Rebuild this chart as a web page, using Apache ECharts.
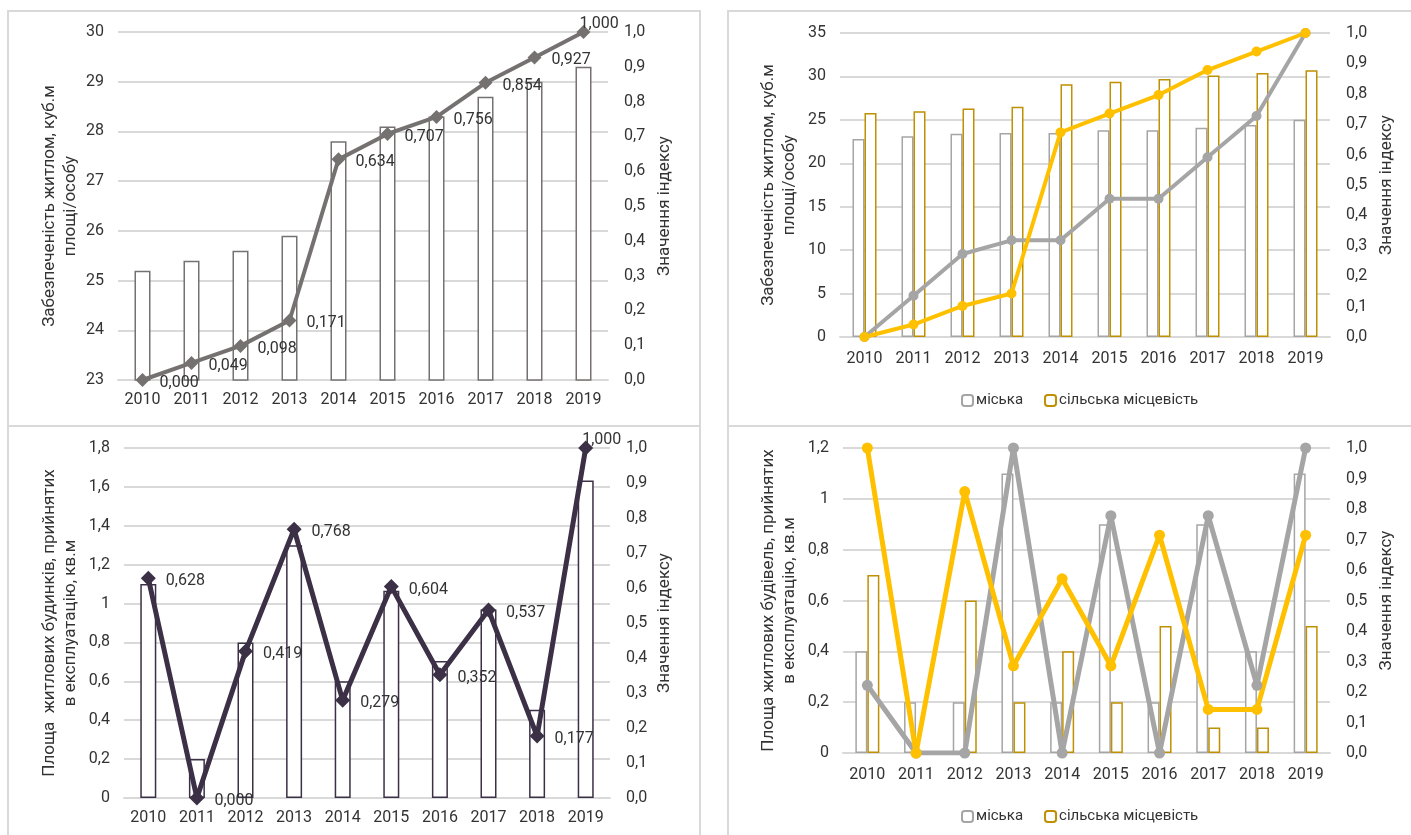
<!DOCTYPE html>
<html>
<head>
<meta charset="utf-8">
<title>Індекси забезпеченості житлом</title>
<script src="https://cdn.jsdelivr.net/npm/echarts@6/dist/echarts.min.js"></script>
<style>
  html, body { margin: 0; padding: 0; background: #fff; }
  #chart { width: 1411px; height: 835px; }
</style>
</head>
<body>
<div id="chart"></div>
<script>
// роки
const years = ['2010', '2011', '2012', '2013', '2014', '2015', '2016', '2017', '2018', '2019'];

// 1) забезпеченість житлом, всього + індекс
const housingTotal = [25.2, 25.4, 25.6, 25.9, 27.8, 28.1, 28.3, 28.7, 29.0, 29.3];
const housingTotalIdx = [0.000, 0.049, 0.098, 0.171, 0.634, 0.707, 0.756, 0.854, 0.927, 1.000];

// 2) забезпеченість житлом, місто / село + індекси
const housingUrban = [22.8, 23.1, 23.4, 23.5, 23.5, 23.8, 23.8, 24.1, 24.4, 25.0];
const housingRural = [25.8, 26.0, 26.3, 26.5, 29.1, 29.4, 29.7, 30.1, 30.4, 30.7];
const housingUrbanIdx = [0.000, 0.136, 0.273, 0.318, 0.318, 0.455, 0.455, 0.591, 0.727, 1.000];
const housingRuralIdx = [0.000, 0.041, 0.102, 0.143, 0.673, 0.735, 0.796, 0.878, 0.939, 1.000];

// 3) площа житлових будинків, прийнятих в експлуатацію + індекс
const builtTotal = [1.1, 0.2, 0.8, 1.3, 0.6, 1.066, 0.704, 0.97, 0.454, 1.633];
const builtTotalIdx = [0.628, 0.000, 0.419, 0.768, 0.279, 0.604, 0.352, 0.537, 0.177, 1.000];

// 4) площа, місто / село + індекси
const builtUrban = [0.4, 0.2, 0.2, 1.1, 0.2, 0.9, 0.2, 0.9, 0.4, 1.1];
const builtRural = [0.7, 0.0, 0.6, 0.2, 0.4, 0.2, 0.5, 0.1, 0.1, 0.5];
const builtUrbanIdx = [0.222, 0.000, 0.000, 1.000, 0.000, 0.778, 0.000, 0.778, 0.222, 1.000];
const builtRuralIdx = [1.000, 0.000, 0.857, 0.286, 0.571, 0.286, 0.714, 0.143, 0.143, 0.714];

const legendNames = ['міська', 'сільська місцевість'];
const leftTitles = [
  'Забезпеченість житлом, куб.м\nплощі/особу',
  'Забезпеченість житлом, куб.м\nплощі/особу',
  'Площа  житлових будинків, прийнятих\nв експлуатацію, кв.м',
  'Площа житлових будівель, прийнятих\nв експлуатацію, кв.м'
];
const rightTitle = 'Значення індексу';

const FONT = 'Roboto';
const TXT = '#333333';
const GRID_LINE = '#d9d9d9';

const comma = (v, d) => v.toFixed(d).replace('.', ',');
const plainNum = v => String(Math.round(v * 10) / 10).replace('.', ',');

// позиції чотирьох діаграм на сторінці
const grids = [
  { left: 118, top: 32, width: 490, height: 348 },
  { left: 840, top: 33, width: 490, height: 304 },
  { left: 124, top: 448, width: 486, height: 350 },
  { left: 843, top: 448, width: 487, height: 305 }
];

const xAxes = grids.map((g, i) => ({
  type: 'category',
  gridIndex: i,
  data: years,
  axisLine: { lineStyle: { color: GRID_LINE, width: 2 } },
  axisTick: { show: false },
  axisLabel: { color: TXT, fontFamily: FONT, fontSize: 16, margin: i % 2 ? 14 : 12 }
}));

const leftScales = [
  { min: 23, max: 30, interval: 1, fmt: v => String(v) },
  { min: 0, max: 35, interval: 5, fmt: v => String(v) },
  { min: 0, max: 1.8, interval: 0.2, fmt: plainNum },
  { min: 0, max: 1.2, interval: 0.2, fmt: plainNum }
];
const leftGaps = [37, 40, 43, 43];
const rightGaps = [48, 48, 46, 48];

const yAxes = [];
grids.forEach((g, i) => {
  yAxes.push({
    type: 'value',
    gridIndex: i,
    position: 'left',
    min: leftScales[i].min,
    max: leftScales[i].max,
    interval: leftScales[i].interval,
    name: leftTitles[i],
    nameLocation: 'middle',
    nameGap: leftGaps[i],
    nameTextStyle: { color: TXT, fontFamily: FONT, fontSize: 17, lineHeight: 21 },
    axisLine: { show: false },
    axisTick: { show: false },
    axisLabel: { color: TXT, fontFamily: FONT, fontSize: 16, margin: 14, formatter: leftScales[i].fmt },
    splitLine: { lineStyle: { color: GRID_LINE, width: 2 } }
  });
  yAxes.push({
    type: 'value',
    gridIndex: i,
    position: 'right',
    min: 0,
    max: 1,
    interval: 0.1,
    name: rightTitle,
    nameLocation: 'middle',
    nameGap: rightGaps[i],
    nameTextStyle: { color: TXT, fontFamily: FONT, fontSize: 17 },
    axisLine: { show: false },
    axisTick: { show: false },
    axisLabel: { color: TXT, fontFamily: FONT, fontSize: 16, margin: 16, formatter: v => comma(v, 1) },
    splitLine: { show: false }
  });
});

const idxLabel = {
  show: true,
  position: 'right',
  distance: 10,
  offset: [0, 3],
  color: TXT,
  fontFamily: FONT,
  fontSize: 16,
  formatter: p => comma(p.value, 3)
};
// останню точку Excel підписав зверху
const withLastLabel = arr => arr.map((v, i) =>
  i === arr.length - 1 ? { value: v, label: { offset: [-21, -8] } } : v);

const whiteBar = (name, data, grid, color, width) => ({
  name: name,
  type: 'bar',
  xAxisIndex: grid,
  yAxisIndex: grid * 2,
  data: data,
  barWidth: width,
  barGap: '0%',
  itemStyle: { color: '#fff', borderColor: color, borderWidth: 1.5 }
});

const idxLine = (name, data, grid, color, symbol, size, lineWidth, label) => ({
  name: name,
  type: 'line',
  xAxisIndex: grid,
  yAxisIndex: grid * 2 + 1,
  data: data,
  symbol: symbol,
  symbolSize: size,
  lineStyle: { color: color, width: lineWidth },
  itemStyle: { color: color },
  label: label || { show: false },
  z: 3
});

const legendBase = {
  data: legendNames,
  left: 961,
  itemWidth: 11,
  itemHeight: 11,
  itemGap: 21,
  padding: 0,
  textStyle: { color: TXT, fontFamily: FONT, fontSize: 15, padding: [0, 0, 0, -2] }
};

const borders = [
  { x: 8, y: 11, width: 692, height: 415 },
  { x: 728, y: 11, width: 720, height: 415 },
  { x: 8, y: 426, width: 692, height: 440 },
  { x: 728, y: 426, width: 720, height: 440 }
].map(r => ({
  type: 'rect',
  shape: r,
  style: { fill: 'none', stroke: GRID_LINE, lineWidth: 2 },
  silent: true
}));

const chart = echarts.init(document.getElementById('chart'));
chart.setOption({
  animation: false,
  textStyle: { fontFamily: FONT },
  graphic: borders,
  grid: grids,
  xAxis: xAxes,
  yAxis: yAxes,
  legend: [
    Object.assign({}, legendBase, { top: 393 }),
    Object.assign({}, legendBase, { top: 809 })
  ],
  series: [
    whiteBar('всього', housingTotal, 0, '#767171', 16),
    idxLine('індекс', withLastLabel(housingTotalIdx), 0, '#767171', 'diamond', 14, 4, idxLabel),

    whiteBar('міська', housingUrban, 1, '#a5a5a5', 12),
    whiteBar('сільська місцевість', housingRural, 1, '#bf9000', 12),
    idxLine('індекс, міська', housingUrbanIdx, 1, '#a5a5a5', 'circle', 10, 4),
    idxLine('індекс, сільська', housingRuralIdx, 1, '#ffc000', 'circle', 10, 4),

    whiteBar('всього ', builtTotal, 2, '#3b3045', 16),
    idxLine('індекс ', withLastLabel(builtTotalIdx), 2, '#3b3045', 'diamond', 15, 5, idxLabel),

    whiteBar('міська', builtUrban, 3, '#a5a5a5', 12),
    whiteBar('сільська місцевість', builtRural, 3, '#bf9000', 12),
    idxLine('індекс, міська ', builtUrbanIdx, 3, '#a5a5a5', 'circle', 11, 5),
    idxLine('індекс, сільська ', builtRuralIdx, 3, '#ffc000', 'circle', 11, 5)
  ]
});

window.addEventListener('resize', () => chart.resize());
</script>
</body>
</html>
